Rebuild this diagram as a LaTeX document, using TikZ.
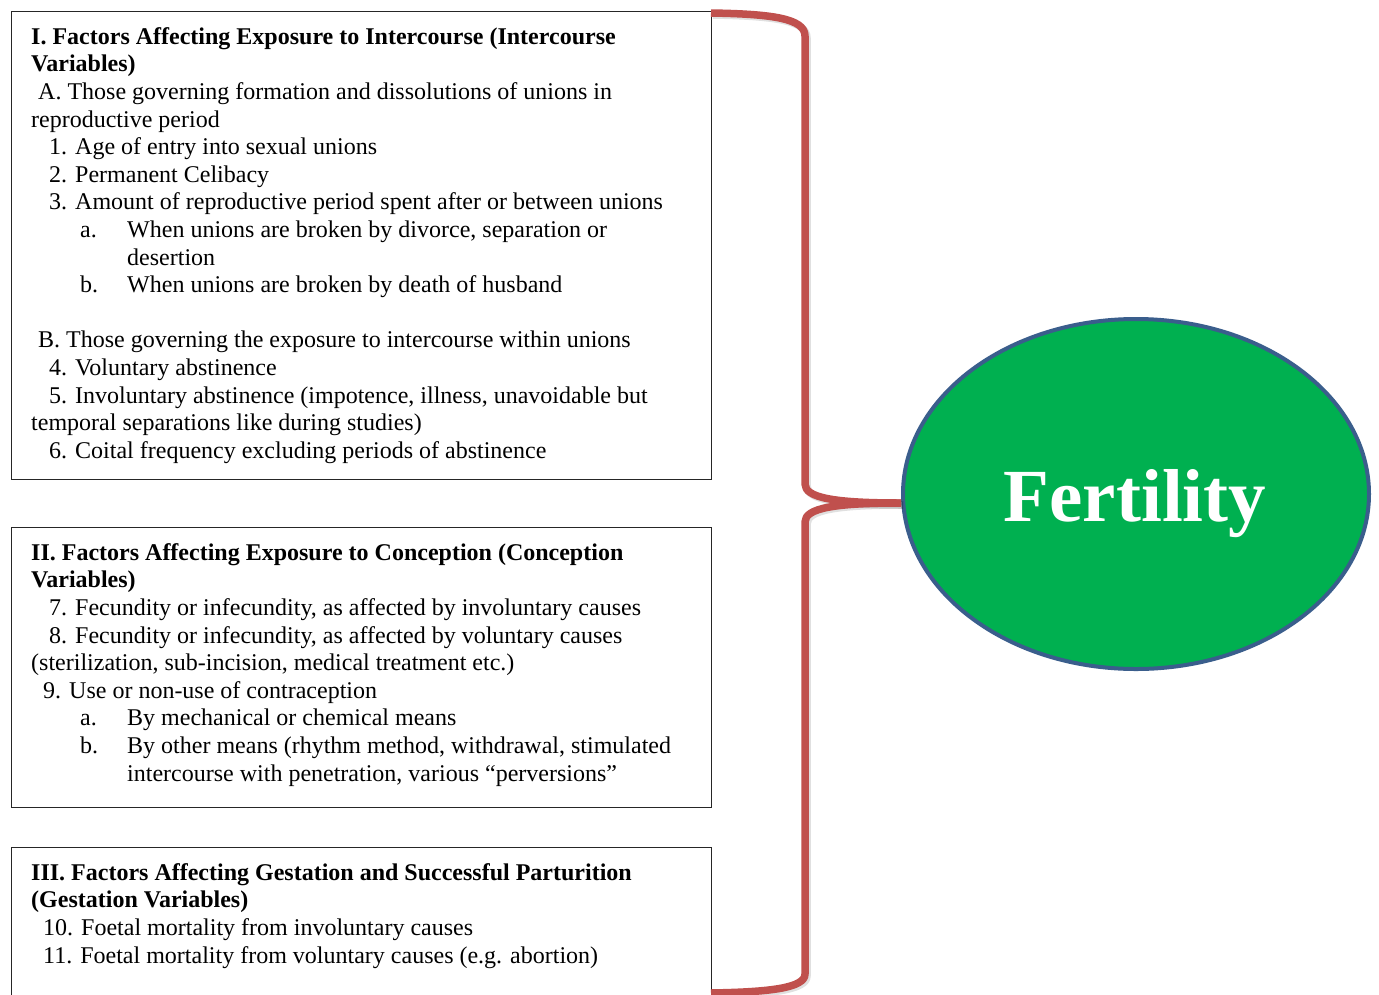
\documentclass[tikz,border=0pt]{standalone}
\usepackage{fontspec}
\setmainfont{Liberation Serif}
\usetikzlibrary{shapes.geometric}
\definecolor{braceRed}{HTML}{C0504D}
\definecolor{fertGreen}{HTML}{00B050}
\definecolor{ellBlue}{HTML}{3A5E8C}
\begin{document}
\begin{tikzpicture}[x=1pt,y=-1pt,
  factorbox/.style={draw=black!85, line width=1.2pt, inner sep=0pt, anchor=north west, minimum width=700pt},
  boxtext/.style={anchor=base west, inner sep=0pt, font=\fontsize{24}{27.6}\selectfont},
  bracestyle/.style={draw=braceRed, line width=7.5pt, line join=round, line cap=butt,
    preaction={draw=black, opacity=0.12, line width=7.5pt, transform canvas={shift={(2pt,-2pt)}}}},
  fertstyle/.style={ellipse, fill=fertGreen, draw=ellBlue, line width=4pt, minimum width=466pt, minimum height=350pt, inner sep=0pt},
]
\useasboundingbox (0,0) rectangle (1379,994);
\clip (0,0) rectangle (1379,994);

% boxes
\node[factorbox, minimum height=468pt] (box1) at (11,11) {};
\node[factorbox, minimum height=280pt] (box2) at (11,527) {};
\node[factorbox, minimum height=160pt] (box3) at (11,847) {};

% texts
\node[boxtext] (text1) at (31,44.3) {\begin{tabular}[t]{@{}l@{}}
\textbf{I. Factors Affecting Exposure to Intercourse (Intercourse}\\
\textbf{Variables)}\\
\hspace*{7pt}A. Those governing formation and dissolutions of unions in\\
reproductive period\\
\hspace*{18pt}1. Age of entry into sexual unions\\
\hspace*{18pt}2. Permanent Celibacy\\
\hspace*{18pt}3. Amount of reproductive period spent after or between unions\\
\hspace*{49pt}\makebox[47pt][l]{a.}When unions are broken by divorce, separation or\\
\hspace*{96pt}desertion\\
\hspace*{49pt}\makebox[47pt][l]{b.}When unions are broken by death of husband\\
\mbox{}\\
\hspace*{7pt}B. Those governing the exposure to intercourse within unions\\
\hspace*{18pt}4. Voluntary abstinence\\
\hspace*{18pt}5. Involuntary abstinence (impotence, illness, unavoidable but\\
temporal separations like during studies)\\
\hspace*{18pt}6. Coital frequency excluding periods of abstinence
\end{tabular}};

\node[boxtext] (text2) at (31,560.3) {\begin{tabular}[t]{@{}l@{}}
\textbf{II. Factors Affecting Exposure to Conception (Conception}\\
\textbf{Variables)}\\
\hspace*{18pt}7. Fecundity or infecundity, as affected by involuntary causes\\
\hspace*{18pt}8. Fecundity or infecundity, as affected by voluntary causes\\
(sterilization, sub-incision, medical treatment etc.)\\
\hspace*{12pt}9. Use or non-use of contraception\\
\hspace*{49pt}\makebox[47pt][l]{a.}By mechanical or chemical means\\
\hspace*{49pt}\makebox[47pt][l]{b.}By other means (rhythm method, withdrawal, stimulated\\
\hspace*{96pt}intercourse with penetration, various “perversions”
\end{tabular}};

\node[boxtext] (text3) at (31,880.3) {\begin{tabular}[t]{@{}l@{}}
\textbf{III. Factors Affecting Gestation and Successful Parturition}\\
\textbf{(Gestation Variables)}\\
\hspace*{12pt}10. Foetal mortality from involuntary causes\\
\hspace*{12pt}11. Foetal mortality from voluntary causes (e.g. abortion)
\end{tabular}};

% fertility ellipse
\node[fertstyle] (fert) at (1136,494) {};
\node[anchor=base, inner sep=0pt, text=white, font=\fontsize{75}{82}\selectfont\bfseries] (fertlabel) at (1135,521) {Fertility};

% brace
\coordinate (btop) at (711,13);
\coordinate (bbot) at (711,993);
\coordinate (btip) at (fert.west |- 0,503);
\draw[bracestyle] (btop) .. controls (770,14) and (805,18) .. (805,36)
  -- (805,484) .. controls (805,498) and (835,503) .. (btip);
\draw[bracestyle] (btip) .. controls (835,503) and (805,508) .. (805,522)
  -- (805,974) .. controls (805,988) and (770,992) .. (bbot);
\end{tikzpicture}
\end{document}
